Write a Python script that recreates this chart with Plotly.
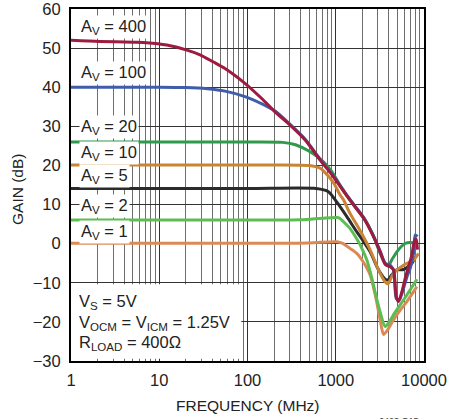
import plotly.graph_objects as go

# ---- data (frequency in MHz, gain in dB) ----
FREQ_AV400 = [1, 2.1, 5.1, 7.2, 12.2, 20.6, 29, 40.7, 55.6, 93.6, 150, 205, 304, 450, 665, 942, 1336, 1590, 2100, 2676, 3187, 3631, 4139, 4510, 4840, 5140, 5616, 6120, 6673, 7293, 7743, 8150, 8435]
GAIN_AV400 = [52, 51.7, 51.5, 51.4, 50.8, 49.5, 48.3, 46.5, 44.8, 41, 36.8, 33.7, 30.3, 26.5, 21.4, 17.1, 12.2, 9.9, 6.3, 1.8, -2.1, -5.3, -5.9, -6.6, -13.5, -14.8, -12.3, -8.9, -5.9, -2.9, 0.5, 1.2, -1.5]

FREQ_AV100 = [1, 10, 20, 35, 55.6, 93.6, 150, 205, 304, 450, 665, 942, 1336, 1590, 2100, 2676, 3187, 3631, 4139, 4510, 4840, 5140, 5370, 5855, 6400, 6975, 7603, 7943, 8435]
GAIN_AV100 = [40, 40, 39.9, 39.6, 39.0, 37.6, 35.6, 33.9, 30.5, 26.7, 21.6, 17.3, 12.4, 10.1, 6.5, 2.0, -1.9, -5.0, -5.5, -6.8, -14.0, -14.5, -14.0, -11.5, -8.5, -6.3, -2.5, 2.2, 1.8]

FREQ_AV20 = [1, 100, 250, 350, 513, 720, 900, 1100, 1336, 1590, 2100, 2676, 3187, 3631, 3959, 4400, 4928, 5500, 6120, 7293, 7943]
GAIN_AV20 = [26, 26, 25.9, 25.3, 23.5, 21, 18.5, 15.2, 12.3, 10.0, 6.4, 1.9, -2.5, -5.0, -5.5, -3.8, -2.1, -0.8, 0.05, 0.25, -0.3]

FREQ_AV10 = [1, 100, 500, 665, 725, 942, 1110, 1223, 1447, 1891, 2455, 3049, 3631, 3900, 4510, 5855, 7603, 8661]
GAIN_AV10 = [20.1, 20.1, 20.0, 19.3, 18.6, 15.6, 12.6, 11.2, 7.8, 3.3, -1.6, -6.7, -9.8, -10.3, -7.6, -5.5, -4.2, -2.5]

FREQ_AV5 = [1, 100, 600, 826, 1029, 1336, 1734, 2000, 2455, 3049, 3600, 3900, 4300, 4928, 5855, 7293, 7943]
GAIN_AV5 = [14.1, 14.1, 14.1, 13.3, 10.6, 6.9, 3.0, 1.0, -2.1, -6.7, -9.0, -9.3, -8.0, -6.7, -6.6, -5.0, -3.3]

FREQ_AV2 = [1, 100, 400, 700, 1029, 1110, 1223, 1447, 1734, 1891, 2252, 2567, 2797, 3187, 3631, 4100, 4510, 5855, 6975, 8308]
GAIN_AV2 = [6.05, 6.05, 6.1, 6.5, 6.7, 6.5, 5.6, 3.9, 1.2, -0.3, -4.2, -8.9, -12.5, -17.5, -21.2, -19.8, -18.2, -14.4, -11.8, -9.1]

FREQ_AV1 = [1, 100, 500, 1029, 1200, 1447, 1734, 2000, 2455, 2797, 3187, 3474, 3797, 4510, 5370, 6398, 8308]
GAIN_AV1 = [0.1, 0.1, 0.2, 0.5, 0.1, -1.2, -2.5, -4.3, -8.0, -13, -19.5, -23.2, -22.3, -19.5, -17.0, -14.8, -11]

SERIES_NAMES = ["A<sub>V</sub> = 1", "A<sub>V</sub> = 2", "A<sub>V</sub> = 5", "A<sub>V</sub> = 10",
                "A<sub>V</sub> = 20", "A<sub>V</sub> = 100", "A<sub>V</sub> = 400"]
SERIES_FREQ = [FREQ_AV1, FREQ_AV2, FREQ_AV5, FREQ_AV10, FREQ_AV20, FREQ_AV100, FREQ_AV400]
SERIES_GAIN = [GAIN_AV1, GAIN_AV2, GAIN_AV5, GAIN_AV10, GAIN_AV20, GAIN_AV100, GAIN_AV400]
SERIES_COLORS = ["#DC8A55", "#5CBD52", "#2B2B2B", "#C98436", "#2F9A4C", "#3F5DAA", "#9E1A3F"]
LABEL_Y = [3.05, 9.6, 17.4, 23.3, 29.75, 43.6, 55.5]

X_TICKS = [1, 10, 100, 1000, 10000]
X_TICKTEXT = ["1", "10", "100", "1000", "10000"]
Y_TICKS = [-30, -20, -10, 0, 10, 20, 30, 40, 50, 60]
Y_TICKTEXT = ["\u221230", "\u221220", "\u221210", "0", "10", "20", "30", "40", "50", "60"]

NOTE_LINES = ["V<sub>S</sub> = 5V", "V<sub>OCM</sub> = V<sub>ICM</sub> = 1.25V", "R<sub>LOAD</sub> = 400\u03a9"]

FONT = "Liberation Sans, Arial, sans-serif"
FS = 16.5

W, H = 449, 419
L, T, PW, PH = 71, 9, 353, 352

minor_vals = [m * 10 ** d for d in range(4) for m in range(2, 10)]

fig = go.Figure()
for f, g, c in zip(SERIES_FREQ, SERIES_GAIN, SERIES_COLORS):
    fig.add_trace(go.Scatter(x=f, y=g, mode="lines",
                             line=dict(color=c, width=3, shape="spline", smoothing=0.7),
                             showlegend=False, hoverinfo="skip"))

# white box behind the condition text (covers grid, not traces)
fig.add_shape(type="rect", xref="x", yref="y", x0=1, x1=85, y0=-29.4, y1=-10.4,
              fillcolor="white", line=dict(width=0), layer="between")


def px_x(xp):  # reference pixel -> paper
    return (xp - L) / PW


def px_y(yp):
    return (T + PH - yp) / PH


annotations = []
for name, y in zip(SERIES_NAMES, LABEL_Y):
    annotations.append(dict(text=name, xref="paper", yref="y", x=0.024, y=y,
                            xanchor="left", yanchor="middle", showarrow=False,
                            bgcolor="white", borderpad=1,
                            font=dict(family=FONT, size=FS, color="#222")))
note_y_px = [301.7, 323.3, 343.3]
for txt, ypx in zip(NOTE_LINES, note_y_px):
    annotations.append(dict(text=txt, xref="paper", yref="paper",
                            x=px_x(77), y=px_y(ypx),
                            xanchor="left", yanchor="middle", showarrow=False,
                            font=dict(family=FONT, size=FS, color="#222")))
annotations.append(dict(text="GAIN (dB)", xref="paper", yref="paper",
                        x=px_x(17), y=px_y(190), textangle=-90,
                        xanchor="center", yanchor="middle", showarrow=False,
                        font=dict(family=FONT, size=15.5, color="#222")))
annotations.append(dict(text="FREQUENCY (MHz)", xref="paper", yref="paper",
                        x=px_x(248), y=px_y(405),
                        xanchor="center", yanchor="middle", showarrow=False,
                        font=dict(family=FONT, size=15.5, color="#222")))
annotations.append(dict(text="6403 G15", xref="paper", yref="paper",
                        x=px_x(399), y=px_y(414),
                        xanchor="center", yanchor="top", showarrow=False,
                        font=dict(family=FONT, size=9, color="#444")))

fig.update_layout(
    width=W, height=H,
    margin=dict(l=L, r=W - L - PW, t=T, b=H - T - PH, autoexpand=False),
    paper_bgcolor="white", plot_bgcolor="white",
    annotations=annotations,
    font=dict(family=FONT, size=FS, color="#222"),
)
fig.update_xaxes(type="log", range=[0, 4], tickvals=X_TICKS, ticktext=X_TICKTEXT,
                 showgrid=True, gridcolor="#333", gridwidth=1, automargin=False,
                 minor=dict(tickvals=minor_vals, showgrid=True, gridcolor="#6e6e6e", gridwidth=1, ticks=""),
                 showline=True, linecolor="black", linewidth=2, mirror=True, ticks="",
                 ticklabeloverflow="allow",
                 ticklabelstandoff=3, tickfont=dict(family=FONT, size=FS, color="#222"))
fig.update_yaxes(range=[-30, 60], tickvals=Y_TICKS, ticktext=Y_TICKTEXT,
                 showgrid=True, gridcolor="#333", gridwidth=1, zeroline=False, automargin=False,
                 showline=True, linecolor="black", linewidth=2, mirror=True, ticks="",
                 ticklabeloverflow="allow",
                 ticklabelstandoff=5, tickfont=dict(family=FONT, size=FS, color="#222"))

fig.write_html("out.html", config={"displayModeBar": False},
               post_script="document.body.style.margin='0px';document.body.style.overflow='hidden';")
